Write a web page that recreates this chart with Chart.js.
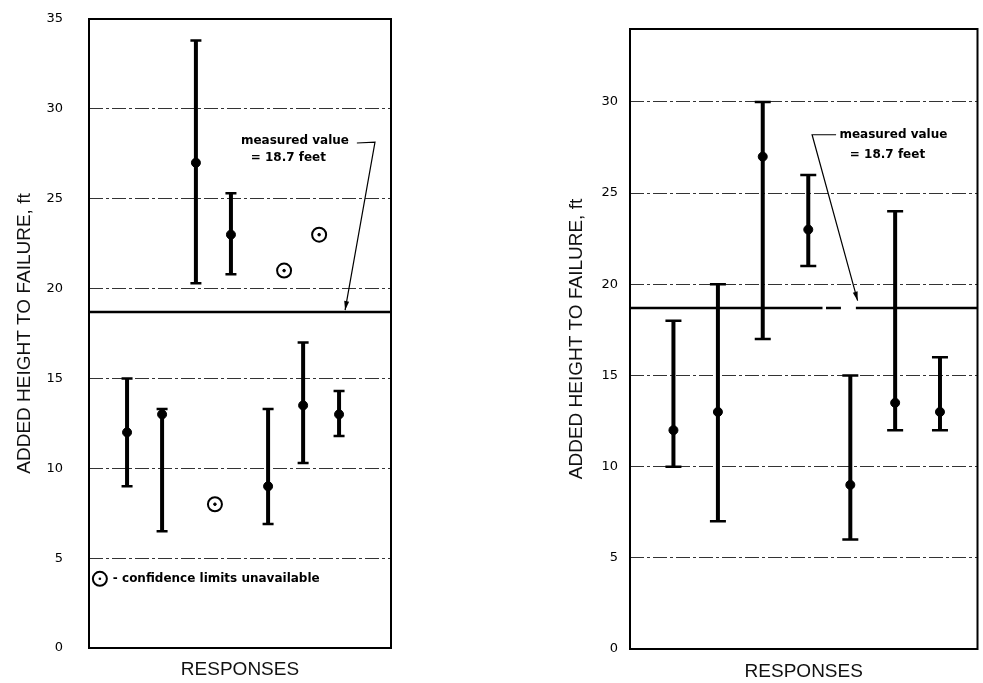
<!DOCTYPE html>
<html>
<head>
<meta charset="utf-8">
<script src="https://cdn.jsdelivr.net/npm/chart.js@4/dist/chart.umd.min.js"></script>
<style>
  html, body { margin: 0; padding: 0; background: #fff; }
  #wrap { position: relative; width: 983px; height: 683px; }
  canvas { position: absolute; top: 0; }
  #leftChart { left: 0; }
  #rightChart { left: 480px; }
</style>
</head>
<body>
<div id="wrap">
  <canvas id="leftChart" width="480" height="683"></canvas>
  <canvas id="rightChart" width="503" height="683"></canvas>
</div>
<script>
// measured value (feet)
const measured = 18.7;

// left panel: responses with confidence limits
const leftX = [1.26, 2.42, 3.54, 4.70, 5.93, 7.09, 8.28];
const leftMean = [12, 13, 27, 23, 9, 13.5, 13];
const leftLow = [9, 6.5, 20.3, 20.8, 6.9, 10.3, 11.8];
const leftHigh = [15, 13.3, 33.8, 25.3, 13.3, 17, 14.3];
// left panel: responses without confidence limits
const leftOpenX = [4.17, 6.46, 7.62];
const leftOpenY = [8, 21, 23];
const leftTicks = [0, 5, 10, 15, 20, 25, 30, 35];

// right panel
const rightX = [1.25, 2.53, 3.82, 5.13, 6.34, 7.63, 8.92];
const rightMean = [12, 13, 27, 23, 9, 13.5, 13];
const rightLow = [10, 7, 17, 21, 6, 12, 12];
const rightHigh = [18, 20, 30, 26, 15, 24, 16];
const rightTicks = [0, 5, 10, 15, 20, 25, 30];
// where the measured line is broken in the right panel
const rightLineBreaks = [[5.54, 5.64], [6.07, 6.50]];

const titleText = 'ADDED HEIGHT TO FAILURE, ft';
const xTitleText = 'RESPONSES';

const toPts = (xs, ys) => xs.map((x, i) => ({x: x, y: ys[i]}));

// error bars drawn with the chart scales
const errorBars = {
    id: 'errorBars',
    beforeDatasetsDraw(chart, args, o) {
        const {ctx, scales: {x, y}} = chart;
        ctx.save();
        ctx.strokeStyle = '#000';
        o.xs.forEach((v, i) => {
            const px = x.getPixelForValue(v);
            const top = y.getPixelForValue(o.highs[i]);
            const bot = y.getPixelForValue(o.lows[i]);
            ctx.lineWidth = o.width;
            ctx.beginPath();
            ctx.moveTo(px, top);
            ctx.lineTo(px, bot);
            ctx.stroke();
            ctx.lineWidth = o.capWidth;
            ctx.beginPath();
            ctx.moveTo(px - o.cap, top);
            ctx.lineTo(px + o.cap, top);
            ctx.moveTo(px - o.cap, bot);
            ctx.lineTo(px + o.cap, bot);
            ctx.stroke();
        });
        ctx.restore();
    }
};

// box around the plot
const frame = {
    id: 'frame',
    afterDatasetsDraw(chart) {
        const {ctx, chartArea: a} = chart;
        ctx.save();
        ctx.strokeStyle = '#000';
        ctx.lineWidth = 2;
        ctx.strokeRect(a.left, a.top, a.right - a.left, a.bottom - a.top);
        ctx.restore();
    }
};

// "measured value" callout and key text
const notes = {
    id: 'notes',
    afterDraw(chart, args, o) {
        const {ctx, scales: {x, y}} = chart;
        ctx.save();
        ctx.fillStyle = '#000';
        ctx.strokeStyle = '#000';
        ctx.font = 'bold 12px "DejaVu Sans"';
        ctx.textBaseline = 'middle';
        (o.texts || []).forEach(t => {
            ctx.textAlign = t.align || 'center';
            ctx.fillText(t.text, x.getPixelForValue(t.x), y.getPixelForValue(t.y));
        });
        if (o.leader) {
            const p = o.leader.map(q => [x.getPixelForValue(q[0]), y.getPixelForValue(q[1])]);
            ctx.lineWidth = 1.2;
            ctx.beginPath();
            ctx.moveTo(p[0][0], p[0][1]);
            p.slice(1).forEach(q => ctx.lineTo(q[0], q[1]));
            ctx.stroke();
            // arrow head at the end
            const a = p[p.length - 2], b = p[p.length - 1];
            const ang = Math.atan2(b[1] - a[1], b[0] - a[0]);
            ctx.beginPath();
            ctx.moveTo(b[0], b[1]);
            ctx.lineTo(b[0] - 9 * Math.cos(ang) + 2.5 * Math.sin(ang), b[1] - 9 * Math.sin(ang) - 2.5 * Math.cos(ang));
            ctx.lineTo(b[0] - 9 * Math.cos(ang) - 2.5 * Math.sin(ang), b[1] - 9 * Math.sin(ang) + 2.5 * Math.cos(ang));
            ctx.closePath();
            ctx.fill();
        }
        if (o.key) {
            const cx = x.getPixelForValue(o.key.x), cy = y.getPixelForValue(o.key.y);
            ctx.lineWidth = 2;
            ctx.beginPath();
            ctx.arc(cx, cy, 7, 0, Math.PI * 2);
            ctx.stroke();
            ctx.beginPath();
            ctx.arc(cx, cy, 1.3, 0, Math.PI * 2);
            ctx.fill();
            ctx.textAlign = 'left';
            ctx.fillText(o.key.text, x.getPixelForValue(o.key.tx), cy);
        }
        ctx.restore();
    }
};

function makeOptions(cfg) {
    return {
        responsive: false,
        animation: false,
        devicePixelRatio: 1,
        layout: { padding: cfg.padding },
        scales: {
            x: {
                type: 'linear',
                min: 0,
                max: 10,
                ticks: { display: false },
                grid: { display: false },
                border: { display: false },
                title: {
                    display: true,
                    text: xTitleText,
                    color: '#111',
                    font: { family: '"Liberation Sans"', size: 19 },
                    padding: { top: 0, bottom: cfg.xTitlePad }
                },
                afterFit: s => { s.height = cfg.xHeight; }
            },
            y: {
                min: 0,
                max: cfg.yMax,
                afterBuildTicks: s => { s.ticks = cfg.ticks.map(v => ({value: v})); },
                ticks: {
                    padding: cfg.tickPad,
                    color: '#000',
                    font: { family: '"DejaVu Sans"', size: 13 }
                },
                grid: { color: '#333', lineWidth: 1, drawTicks: false },
                border: { display: false, dash: [14, 3, 3, 3] },
                title: {
                    display: true,
                    text: titleText,
                    color: '#111',
                    font: { family: '"Liberation Sans"', size: 19 },
                    padding: { top: cfg.yTitlePad, bottom: 0 }
                },
                afterFit: s => {
                    s.width = cfg.yWidth;
                    s.paddingTop = 0;
                    s.paddingBottom = 0;
                }
            }
        },
        plugins: {
            legend: { display: false },
            tooltip: { enabled: false },
            errorBars: cfg.errorBars,
            notes: cfg.notes
        }
    };
}

document.addEventListener('DOMContentLoaded', () => {
    // Left panel
    const leftCtx = document.getElementById('leftChart').getContext('2d');
    new Chart(leftCtx, {
        type: 'scatter',
        data: {
            datasets: [
                {
                    data: toPts(leftX, leftMean),
                    backgroundColor: '#000', borderColor: '#000',
                    pointRadius: 4.5, order: 1
                },
                {
                    data: toPts(leftOpenX, leftOpenY),
                    backgroundColor: '#000', borderColor: '#000',
                    pointRadius: 1.3, order: 2
                },
                {
                    data: toPts(leftOpenX, leftOpenY),
                    backgroundColor: '#fff', borderColor: '#000', borderWidth: 2,
                    pointRadius: 7, order: 3
                },
                {
                    type: 'line',
                    data: [{x: 0, y: measured}, {x: 10, y: measured}],
                    borderColor: '#000', borderWidth: 2.5,
                    pointRadius: 0, order: 4
                }
            ]
        },
        options: makeOptions({
            padding: { top: 19, right: 89, left: 0, bottom: 0 },
            yMax: 35, ticks: leftTicks,
            yWidth: 89, xHeight: 35,
            tickPad: 26, yTitlePad: 13.6, xTitlePad: 2,
            errorBars: { xs: leftX, lows: leftLow, highs: leftHigh, width: 4, cap: 5.5, capWidth: 2.5 },
            notes: {
                texts: [
                    { text: 'measured value', x: 6.82, y: 28.2 },
                    { text: '= 18.7 feet', x: 6.6, y: 27.25 }
                ],
                leader: [[8.87, 28.1], [9.47, 28.15], [8.48, 18.8]],
                key: { x: 0.36, y: 3.85, tx: 0.79, text: '- confidence limits unavailable' }
            }
        }),
        plugins: [errorBars, frame, notes]
    });

    // Right panel: measured line with its small breaks
    const rightLine = [{x: 0, y: measured}];
    rightLineBreaks.forEach(b => {
        rightLine.push({x: b[0], y: measured});
        rightLine.push({x: (b[0] + b[1]) / 2, y: null});
        rightLine.push({x: b[1], y: measured});
    });
    rightLine.push({x: 10, y: measured});

    const rightCtx = document.getElementById('rightChart').getContext('2d');
    new Chart(rightCtx, {
        type: 'scatter',
        data: {
            datasets: [
                {
                    data: toPts(rightX, rightMean),
                    backgroundColor: '#000', borderColor: '#000',
                    pointRadius: 4.5, order: 1
                },
                {
                    type: 'line',
                    data: rightLine,
                    spanGaps: false,
                    borderColor: '#000', borderWidth: 2.5,
                    pointRadius: 0, order: 2
                }
            ]
        },
        options: makeOptions({
            padding: { top: 29, right: 2, left: 0, bottom: 0 },
            yMax: 34, ticks: rightTicks,
            yWidth: 150, xHeight: 34,
            tickPad: 12, yTitlePad: 85.6, xTitlePad: 0,
            errorBars: { xs: rightX, lows: rightLow, highs: rightHigh, width: 4, cap: 8, capWidth: 2.5 },
            notes: {
                texts: [
                    { text: 'measured value', x: 7.58, y: 28.2 },
                    { text: '= 18.7 feet', x: 7.41, y: 27.1 }
                ],
                leader: [[5.93, 28.2], [5.24, 28.2], [6.55, 19.1]]
            }
        }),
        plugins: [errorBars, frame, notes]
    });
});
</script>
</body>
</html>
